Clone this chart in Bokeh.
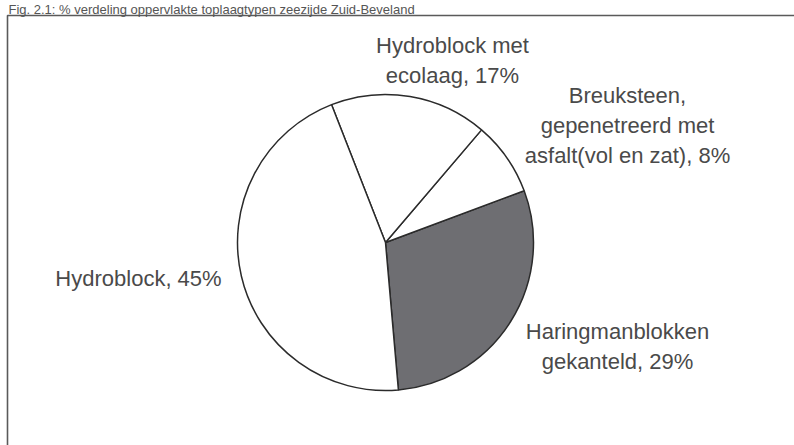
import math
from bokeh.plotting import figure
from bokeh.models import Range1d, ColumnDataSource
from bokeh.core.properties import value
from bokeh.embed import file_html
from bokeh.resources import INLINE

# ---- data ----
title = "Fig. 2.1: % verdeling oppervlakte toplaagtypen zeezijde Zuid-Beveland"
categories = ["Haringmanblokken\ngekanteld", "Breuksteen,\ngepenetreerd met\nasfalt(vol en zat)",
              "Hydroblock met\necolaag", "Hydroblock"]
shares = [29, 8, 17, 45]

# ---- style / layout ----
W, H = 794, 445
fills = ["#6e6e72", "white", "white", "white"]
start_deg = -85.0
cx, cy, r = 385, H - 242, 148
label_x = [617, 627, 452, 138]
label_y = [H - 345.5, H - 124.5, H - 60, H - 278]

total = sum(shares)
starts, ends = [], []
a = math.radians(start_deg)
for s in shares:
    starts.append(a)
    a += s / total * 2 * math.pi
    ends.append(a)

p = figure(width=W, height=H, output_backend="svg", toolbar_location=None,
           x_range=Range1d(0, W), y_range=Range1d(0, H),
           min_border=0, outline_line_color=None)
p.axis.visible = False
p.grid.visible = False
p.background_fill_color = "white"
p.border_fill_color = "white"

# frame (only left/top visible)
p.quad(left=[7], right=[840], top=[H - 15], bottom=[-40], fill_color=None,
       line_color="#5a5a5a", line_width=1.6)

# title
p.text(x=[8], y=[H - 1], text=[title], text_font=value("Liberation Sans"),
       text_font_size="13px", text_color="#555555", text_baseline="top",
       text_align="left")

src = ColumnDataSource(dict(start=starts, end=ends, fill=fills))
p.wedge(x=cx, y=cy, radius=r, radius_units="screen", start_angle="start", end_angle="end",
        fill_color="fill", line_color="#2b2b2b", line_width=1.5, source=src)

texts = [f"{c}, {s}%" for c, s in zip(categories, shares)]
p.text(x=label_x, y=label_y, text=texts, text_font=value("Liberation Sans"),
       text_font_size="22px", text_color="#4a4a4a", text_align="center",
       text_baseline="middle", text_line_height=1.2)

open("out.html", "w").write(file_html(p, INLINE))
